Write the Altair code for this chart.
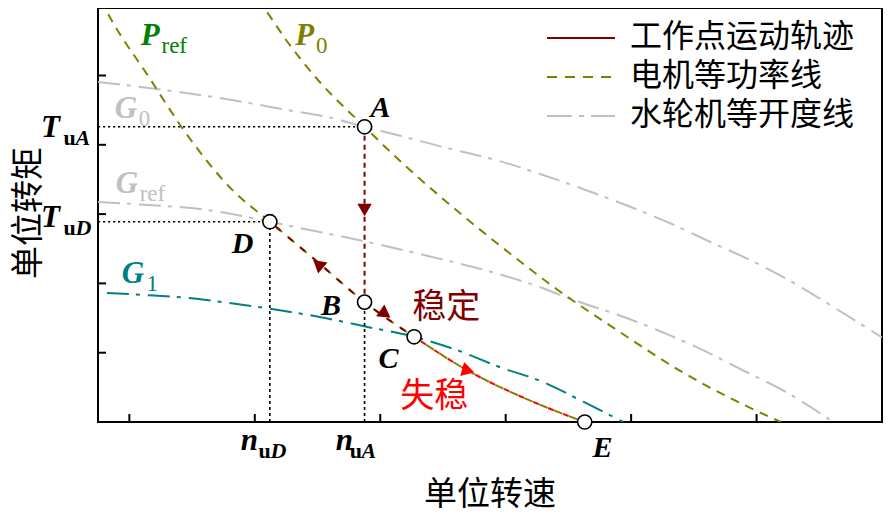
import altair as alt
import pandas as pd

# ---------------- data (unit speed n, unit torque T) ----------------
pt_names = ["A", "B", "C", "D", "E"]
pt_x = [1.875, 1.875, 2.27, 1.12, 3.63]
pt_y = [4.26, 1.73, 1.23, 2.89, 0.0]

# P_ref (motor constant power through D, B, C, E)
pref_x = [-0.23, -0.12, 0.14, 0.45, 0.82, 1.12, 1.50, 1.875, 2.27, 2.69, 3.22, 3.63]
pref_y = [6.09, 5.73, 5.02, 4.17, 3.35, 2.89, 2.31, 1.73, 1.23, 0.75, 0.29, 0.0]

# P_0 (motor constant power through A)
p0_x = [1.02, 1.054, 1.267, 1.504, 1.875, 2.176, 2.492, 2.958, 3.416, 3.898, 4.380, 4.902, 5.194]
p0_y = [6.09, 6.017, 5.469, 4.935, 4.26, 3.737, 3.232, 2.540, 1.905, 1.313, 0.750, 0.245, 0.0]

# G_0 (turbine constant opening through A)
g0_x = [-0.25, 0.027, 0.398, 0.817, 1.267, 1.607, 1.875, 2.136, 2.531, 2.950, 3.298, 3.638,
        3.977, 4.325, 4.649, 4.981, 5.297, 5.613, 6.0]
g0_y = [4.906, 4.848, 4.762, 4.646, 4.50, 4.39, 4.26, 4.141, 3.954, 3.766, 3.564, 3.348,
        3.117, 2.857, 2.583, 2.309, 2.006, 1.659, 1.22]

# G_ref (through D)
gref_x = [-0.25, 0.027, 0.674, 1.014, 1.12, 1.386, 1.844, 2.381, 2.887, 3.227, 3.543, 3.898,
          4.246, 4.586, 4.902, 5.234, 5.613]
gref_y = [3.175, 3.146, 3.045, 2.93, 2.89, 2.79, 2.62, 2.395, 2.165, 1.975, 1.760, 1.544,
          1.299, 1.025, 0.736, 0.433, 0.0]

# G_1 (through C)
g1_x = [-0.179, 0.121, 0.477, 0.793, 1.188, 1.559, 1.899, 2.27, 2.610, 2.950, 3.298, 3.622, 3.938]
g1_y = [1.861, 1.833, 1.789, 1.717, 1.616, 1.501, 1.371, 1.23, 1.039, 0.794, 0.577, 0.289, 0.0]

x_ticks = [0, 1, 2, 3, 4, 5]
y_ticks = [1, 2, 3, 4, 5]

legend_labels = ["工作点运动轨迹", "电机等功率线", "水轮机等开度线"]

# ---------------- styling / layout ----------------
W, H = 784, 414
xscale = alt.Scale(domain=[-0.25, 6.0], nice=False, zero=False)
yscale = alt.Scale(domain=[0, 5.974], nice=False, zero=False)
SERIF = "Liberation Serif"
CJK = "Noto Sans CJK SC"

OLIVE = "#808000"
GRAY = "#c0c0c0"
TEAL = "#008080"
DRED = "#800000"
RED = "#ff0000"
GREEN = "#008000"

P_DASH = [9, 7]
G_DASH = [22, 7, 4, 8]

P = {n: (x, y) for n, x, y in zip(pt_names, pt_x, pt_y)}


def X(field="x"):
    return alt.X(f"{field}:Q", scale=xscale, axis=None)


def Y(field="y"):
    return alt.Y(f"{field}:Q", scale=yscale, axis=None)


def line_layer(xs, ys, color, dash=None, width=2.0, interp="monotone", offset=None):
    df = pd.DataFrame({"x": xs, "y": ys, "o": list(range(len(xs)))})
    kw = dict(color=color, strokeWidth=width, interpolate=interp, clip=True)
    if dash is not None:
        kw["strokeDash"] = dash
    if offset is not None:
        kw["strokeDashOffset"] = offset
    return alt.Chart(df).mark_line(**kw).encode(x=X(), y=Y(), order="o:Q")


layers = []

# turbine constant-opening lines
layers.append(line_layer(g0_x, g0_y, GRAY, G_DASH))
layers.append(line_layer(gref_x, gref_y, GRAY, G_DASH))
layers.append(line_layer(g1_x, g1_y, TEAL, G_DASH))
# motor constant-power lines
layers.append(line_layer(pref_x, pref_y, OLIVE, P_DASH))
layers.append(line_layer(p0_x, p0_y, OLIVE, P_DASH))

# black dotted guides
ax, ay = P["A"]
bx, by = P["B"]
cx, cy = P["C"]
dx_, dy_ = P["D"]
ex, ey = P["E"]
guide = [2.2, 2.8]
layers.append(line_layer([xscale.domain[0], ax], [ay, ay], "black", guide, 1.6, "linear"))
layers.append(line_layer([xscale.domain[0], dx_], [dy_, dy_], "black", guide, 1.6, "linear"))
layers.append(line_layer([dx_, dx_], [0, dy_], "black", [3, 3], 1.6, "linear"))
layers.append(line_layer([bx, bx], [0, by], "black", [3, 3], 1.6, "linear"))

# operating point trajectory
layers.append(line_layer([ax, bx], [ay, by], DRED, [5, 4], 2.0, "linear"))
i_d = pref_x.index(dx_)
i_c = pref_x.index(cx)
i_e = pref_x.index(ex)
layers.append(line_layer(pref_x[i_d:i_c + 1], pref_y[i_d:i_c + 1], DRED, [6, 10], 2.0, offset=8))
layers.append(line_layer(pref_x[i_c:i_e + 1], pref_y[i_c:i_e + 1], RED, [6, 10], 2.0, offset=8))

# arrow heads
arr = pd.DataFrame({
    "x": [ax, 1.504, 2.041, 2.681],
    "y": [3.06, 2.28, 1.558, 0.779],
    "a": [180, 310, 125, 345],
    "c": [DRED, DRED, DRED, RED],
})
layers.append(alt.Chart(arr).mark_point(shape="triangle-up", filled=True, size=210, opacity=1).encode(
    x=X(), y=Y(), angle=alt.Angle("a:Q", scale=None), color=alt.Color("c:N", scale=None)))

# operating points
pts = pd.DataFrame({"x": pt_x, "y": pt_y, "n": pt_names})
layers.append(alt.Chart(pts).mark_point(shape="circle", size=200, filled=True, fill="white",
                                        stroke="black", strokeWidth=1.6, opacity=1).encode(x=X(), y=Y()))

# axis ticks (inward)
layers.append(alt.Chart(pd.DataFrame({"x": x_ticks})).mark_rule(color="black", strokeWidth=2).encode(
    x=X(), y=alt.value(H), y2=alt.value(H - 8)))
layers.append(alt.Chart(pd.DataFrame({"y": y_ticks})).mark_rule(color="black", strokeWidth=2).encode(
    y=Y(), x=alt.value(0), x2=alt.value(8)))


def text_layer(df, font, size, style="normal", weight="normal", baseline="alphabetic", align="left"):
    return alt.Chart(df).mark_text(font=font, fontSize=size, fontStyle=style, fontWeight=weight,
                                   baseline=baseline, align=align).encode(
        x=X(), y=Y(), text="t:N", color=alt.Color("c:N", scale=None))


# point labels
plab = pd.DataFrame({
    "t": pt_names,
    "x": [1.923, 1.528, 1.986, 0.817, 3.693],
    "y": [4.401, 1.544, 0.779, 2.439, -0.505],
    "c": ["black"] * 5,
})
layers.append(text_layer(plab, SERIF, 30, style="italic", weight="bold"))

# curve labels: main italic letters
clab = pd.DataFrame({
    "t": ["P", "P", "G", "G", "G", "T", "T", "n", "n"],
    "x": [0.090, 1.322, -0.116, -0.108, -0.060, -0.705, -0.705, 0.888, 1.646],
    "y": [5.440, 5.440, 4.387, 3.304, 2.006, 4.113, 2.814, -0.404, -0.404],
    "c": [GREEN, OLIVE, GRAY, GRAY, TEAL, "black", "black", "black", "black"],
})
layers.append(text_layer(clab, SERIF, 31, style="italic", weight="bold"))

# subscripts (upright regular)
slab = pd.DataFrame({
    "t": ["ref", "0", "0", "ref", "1"],
    "x": [0.256, 1.488, 0.074, 0.082, 0.137],
    "y": [5.325, 5.325, 4.271, 3.189, 1.890],
    "c": [GREEN, OLIVE, GRAY, GRAY, TEAL],
})
layers.append(text_layer(slab, SERIF, 23))

# subscripts bold "u"
ulab = pd.DataFrame({
    "t": ["u", "u", "u", "u"],
    "x": [-0.525, -0.525, 1.030, 1.757],
    "y": [3.997, 2.698, -0.519, -0.519],
    "c": ["black"] * 4,
})
layers.append(text_layer(ulab, SERIF, 22, weight="bold"))
# subscripts bold italic point letters
blab = pd.DataFrame({
    "t": ["A", "D", "D", "A"],
    "x": [-0.430, -0.430, 1.125, 1.851],
    "y": [3.997, 2.698, -0.519, -0.519],
    "c": ["black"] * 4,
})
layers.append(text_layer(blab, SERIF, 22, style="italic", weight="bold"))

# stability annotations
stab = pd.DataFrame({
    "t": ["稳定", "失稳"],
    "x": [2.255, 2.160],
    "y": [1.645, 0.361],
    "c": [DRED, RED],
})
layers.append(text_layer(stab, CJK, 34, baseline="middle"))

# axis titles
one = pd.DataFrame({"a": [0]})
layers.append(alt.Chart(one).mark_text(text="单位转速", font=CJK, fontSize=33, color="black",
                                       align="center", baseline="middle").encode(
    x=alt.value(W / 2), y=alt.value(H + 73)))
layers.append(alt.Chart(one).mark_text(text="单位转矩", font=CJK, fontSize=33, color="black",
                                       align="center", baseline="middle", angle=270).encode(
    x=alt.value(-69), y=alt.value(H / 2 - 2)))

# legend (manual)
leg_colors = [DRED, OLIVE, GRAY]
leg_dash = [None, [10, 8], [25, 7, 5, 7]]
leg_rows = [30, 69, 108]
for lab, col, dsh, ry in zip(legend_labels, leg_colors, leg_dash, leg_rows):
    kw = dict(color=col, strokeWidth=2)
    if dsh is not None:
        kw["strokeDash"] = dsh
    layers.append(alt.Chart(one).mark_rule(**kw).encode(
        x=alt.value(449), x2=alt.value(517), y=alt.value(ry)))
    layers.append(alt.Chart(one).mark_text(text=lab, font=CJK, fontSize=32, color="black",
                                           align="left", baseline="middle").encode(
        x=alt.value(532), y=alt.value(ry - 1)))

chart = alt.layer(*layers).properties(
    width=W, height=H,
    autosize=alt.AutoSizeParams(type="none"),
    padding={"left": 90, "top": 0, "right": 1, "bottom": 94},
    background="white",
).configure_view(stroke="black", strokeWidth=2)

chart.save("out.html", embed_options={"renderer": "svg", "actions": False})
